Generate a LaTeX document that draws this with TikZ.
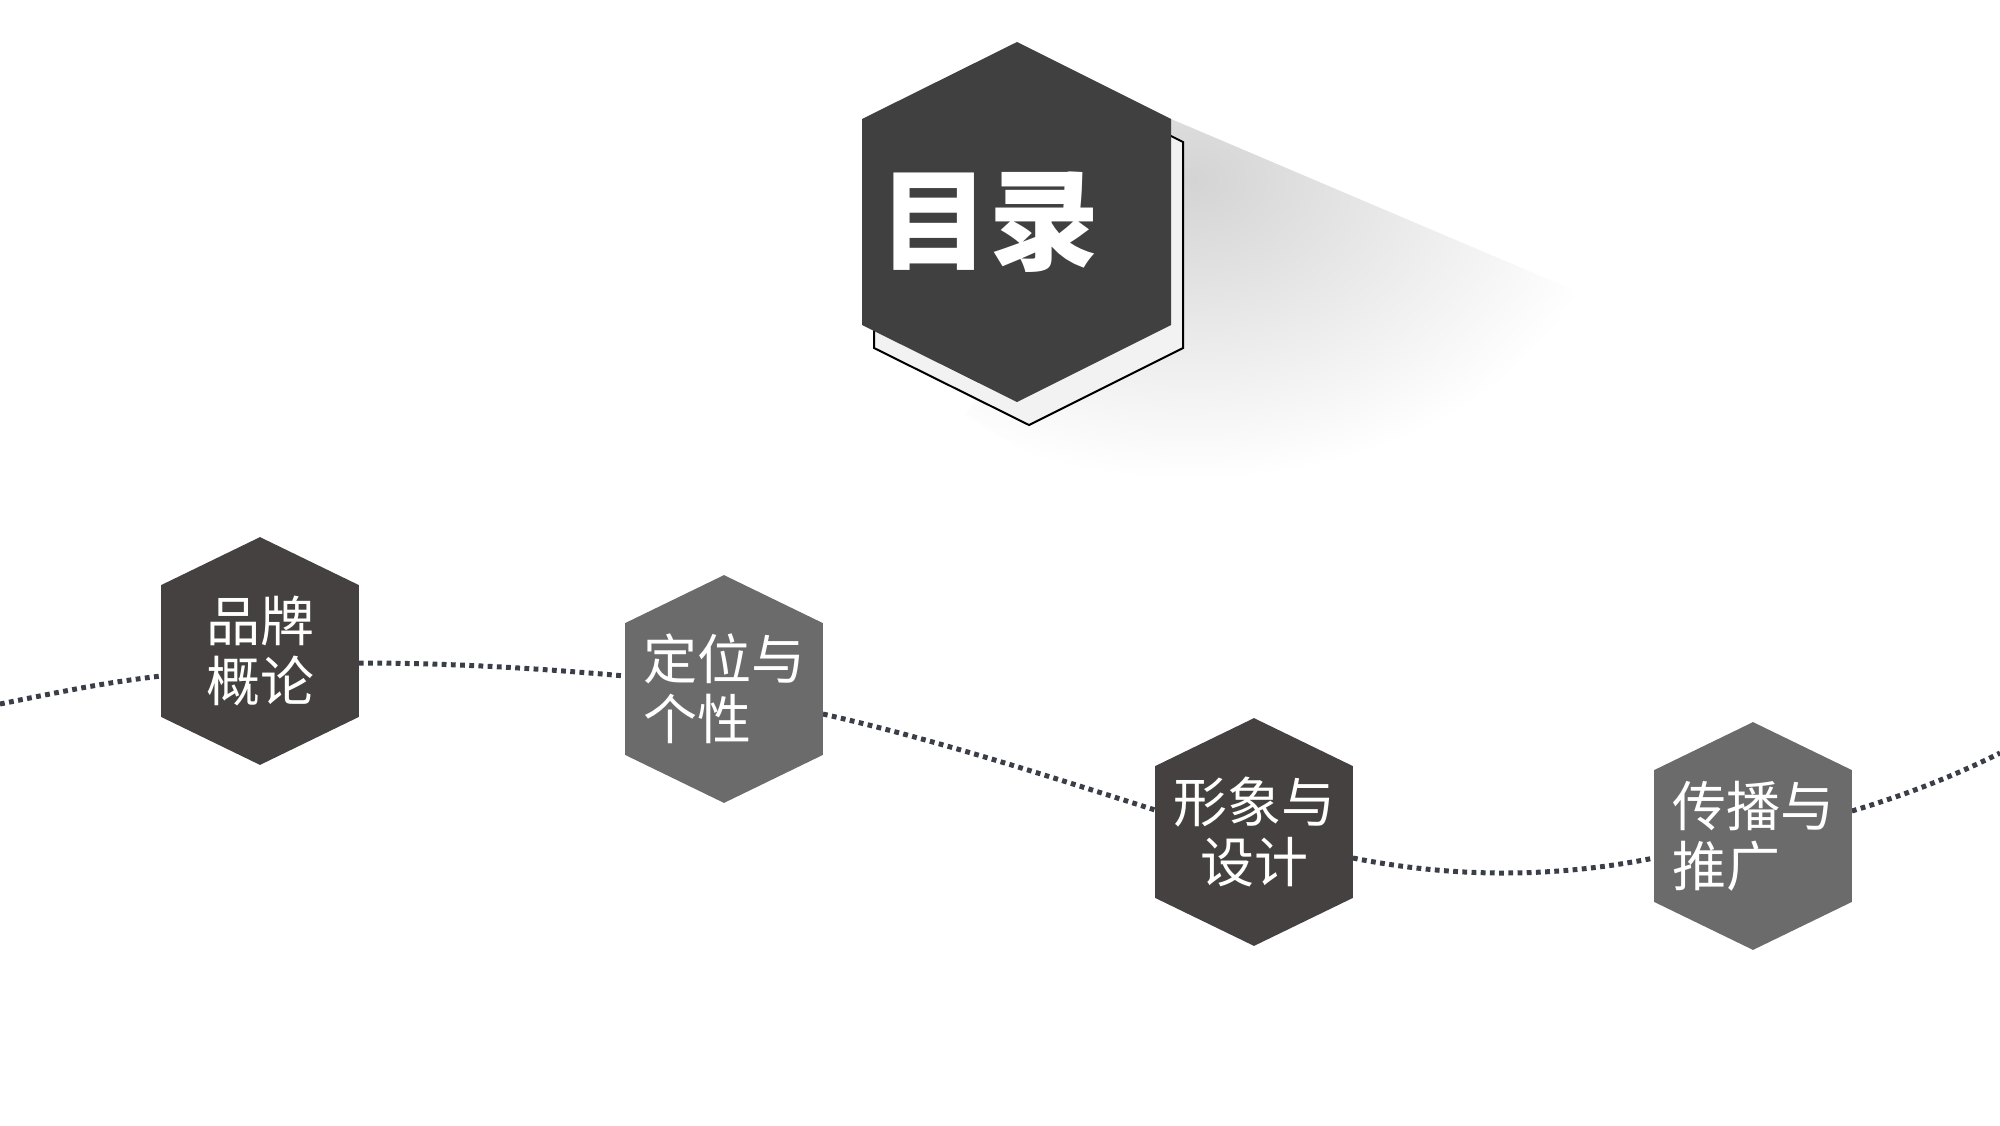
\documentclass[tikz,border=0pt]{standalone}
\usepackage{fontspec}
\newfontfamily\cjk{Noto Sans CJK SC}
\usetikzlibrary{calc,backgrounds}
\definecolor{hexdark}{HTML}{454141}
\definecolor{hexgray}{HTML}{6B6B6B}
\definecolor{titlegray}{HTML}{404040}
\definecolor{dotline}{HTML}{3B3D48}

\begin{document}
\begin{tikzpicture}
  [x=0.5pt,y=-0.5pt,every node/.style={text=white},
   hexbox/.style={minimum width=98.5pt,minimum height=65.5pt,inner sep=0pt,
                  font=\cjk\fontsize{27}{30}\selectfont},
   wave/.style={dotline,line width=2.5pt,dash pattern=on 2.4pt off 2.2pt}]
  \useasboundingbox (0,0) rectangle (2000,1125);

  % title hexagon with its long shadow
  \begin{scope}
    \clip (1171,119) -- (1750,365) -- (1300,620) -- (965,415) -- cycle;
    \shade[inner color=black!17,outer color=white] (1190,180) ellipse (420 and 300);
  \end{scope}
  \filldraw[fill=black!5,draw=black,line width=1pt]
    (1029,65) -- (874,142) -- (874,348) -- (1029,425) -- (1183,348) -- (1183,142) -- cycle;
  \fill[titlegray]
    (1017,42) -- (862,119) -- (862,325) -- (1017,402) -- (1171,325) -- (1171,119) -- cycle;
  \node[font=\cjk\bfseries\fontsize{55}{60}\selectfont] (title) at (989,222) {目录};

  \node[hexbox,align=center] (h1) at (260,651)  {品牌\\概论};
  \node[hexbox,align=left]   (h2) at (724,689)  {定位与\\个性};
  \node[hexbox,align=center] (h3) at (1254,832) {形象与\\设计};
  \node[hexbox,align=left]   (h4) at (1753,836) {传播与\\推广};
  \coordinate (s) at (0,704);
  \coordinate (e) at (2000,753);

  \begin{scope}[on background layer]
    \draw[wave] (s) .. controls +(60,-12) and +(-60,7) .. ($(h1.west)+(0,25)$);
    \draw[wave] ($(h1.east)+(0,12)$) .. controls +(90,0) and +(-90,-8) .. ($(h2.west)+(0,-13)$);
    \draw[wave] ($(h2.east)+(0,25)$) .. controls +(110,25) and +(-110,-35) .. ($(h3.west)+(0,-22)$);
    \draw[wave] ($(h3.east)+(0,26)$) .. controls +(100,20) and +(-100,20) .. ($(h4.west)+(0,22)$);
    \draw[wave] ($(h4.east)+(0,-25)$) .. controls +(50,-15) and +(-50,25) .. (e);

    \foreach \n/\c in {h1/hexdark,h2/hexgray,h3/hexdark,h4/hexgray}
      \fill[\c] (\n.south west) -- (\n.north west) -- ([yshift=24pt]\n.north)
        -- (\n.north east) -- (\n.south east) -- ([yshift=-24pt]\n.south) -- cycle;
  \end{scope}
\end{tikzpicture}
\end{document}
